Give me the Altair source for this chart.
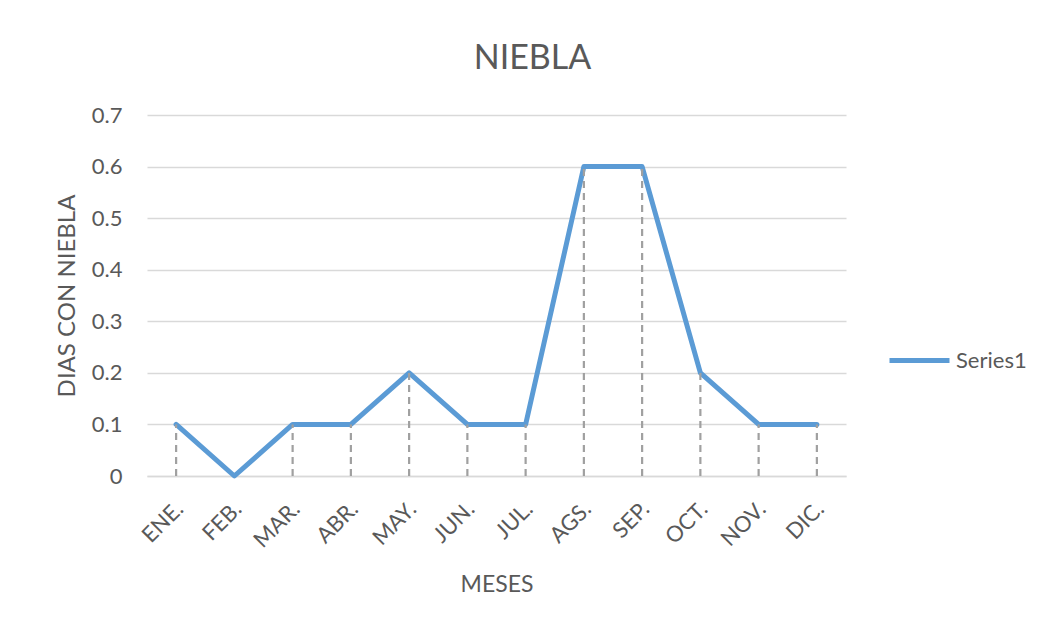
import altair as alt
import pandas as pd

months = ["ENE.", "FEB.", "MAR.", "ABR.", "MAY.", "JUN.", "JUL.", "AGS.", "SEP.", "OCT.", "NOV.", "DIC."]
values = [0.1, 0.0, 0.1, 0.1, 0.2, 0.1, 0.1, 0.6, 0.6, 0.2, 0.1, 0.1]
series = ["Series1"] * len(months)

df = pd.DataFrame({"mes": months, "dias": values, "serie": series})

FONT = "Lato"
GREY = "#595959"

x = alt.X("mes:N", sort=months, title="MESES",
          scale=alt.Scale(type="point", padding=0.5),
          axis=alt.Axis(labelAngle=-45, labelFontSize=22, labelColor=GREY, labelFont=FONT,
                        labelPadding=22, labelOffset=-4, ticks=False, domainColor="#d9d9d9", domainWidth=1.5,
                        titleFontSize=23, titleColor=GREY, titleFont=FONT, titleFontWeight="normal",
                        titlePadding=22, grid=False))

y = alt.Y("dias:Q", title="DIAS CON NIEBLA",
          scale=alt.Scale(domain=[0, 0.7], nice=False),
          axis=alt.Axis(values=[0, 0.1, 0.2, 0.3, 0.4, 0.5, 0.6, 0.7], format=".1~f",
                        labelFontSize=22, labelColor=GREY, labelFont=FONT, labelPadding=25,
                        ticks=False, domain=False, gridColor="#d9d9d9", gridWidth=1.5,
                        titleFontSize=24, titleColor=GREY, titleFont=FONT, titleFontWeight="normal",
                        titlePadding=12))

drops = alt.Chart(df).mark_rule(color="#a0a0a0", strokeWidth=2.2, strokeDash=[7, 5]).encode(
    x=x, y=alt.Y("zero:Q"), y2=alt.Y2("dias:Q")
).transform_calculate(zero="0")

line = alt.Chart(df).mark_line(strokeWidth=5, strokeCap="round", strokeJoin="round").encode(
    x=x, y=y,
    color=alt.Color("serie:N", scale=alt.Scale(range=["#5B9BD5"]),
                    legend=alt.Legend(title=None, orient="none", legendX=740, legendY=213,
                                      symbolType="stroke", symbolSize=3600, symbolStrokeWidth=5,
                                      labelFontSize=22, labelColor=GREY, labelFont=FONT,
                                      labelOffset=4))
)

chart = alt.layer(line, drops).properties(
    width=699, height=361,
    title=alt.TitleParams("NIEBLA", fontSize=34, font=FONT, color=GREY, fontWeight="normal",
                          offset=28, dx=36),
    autosize=alt.AutoSizeParams(type="none"),
    padding={"left": 139, "top": 107, "right": 195, "bottom": 150},
    background="white",
).configure_view(stroke=None)

chart.save("out.html", embed_options={"renderer": "svg", "actions": False})
